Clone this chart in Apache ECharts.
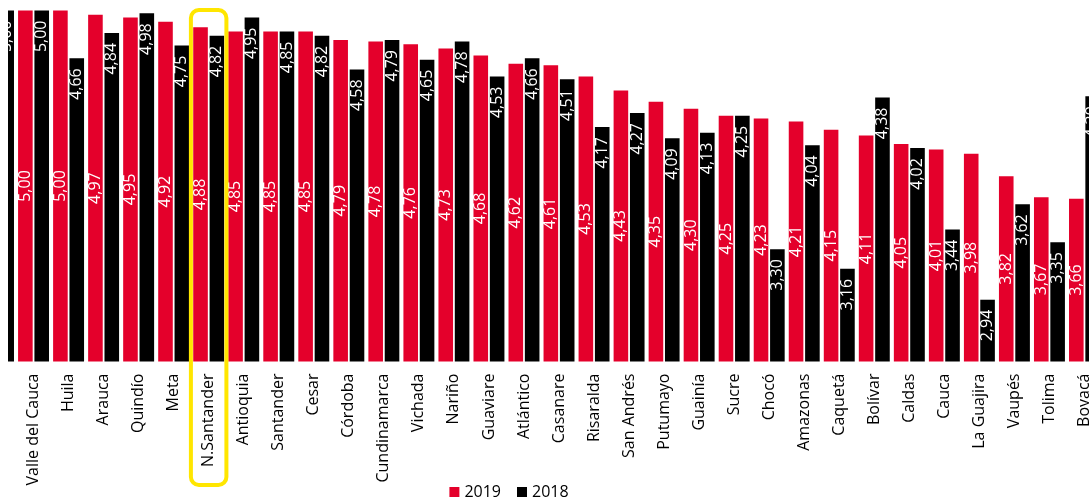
<!DOCTYPE html>
<html>
<head>
<meta charset="utf-8">
<script src="https://cdn.jsdelivr.net/npm/echarts@6/dist/echarts.min.js"></script>
<style>
html,body{margin:0;padding:0;background:#fff;overflow:hidden;width:1089px;height:497px;}
#wrap{position:absolute;left:0;top:0;width:1089px;height:497px;overflow:hidden;}
#c{position:absolute;left:-19.4px;top:0;width:1121.3px;height:497px;}
#mask{position:absolute;left:0;top:0;width:8px;height:370px;background:#fff;z-index:5;}
</style>
</head>
<body>
<div id="wrap"><div id="c"></div><div id="mask"></div></div>
<script>
// First category is the partly visible one cut off at the left edge of the reference.
const categories = ['', 'Valle del Cauca','Huila','Arauca','Quindío','Meta','N.Santander','Antioquia','Santander','Cesar','Córdoba','Cundinamarca','Vichada','Nariño','Guaviare','Atlántico','Casanare','Risaralda','San Andrés','Putumayo','Guainía','Sucre','Chocó','Amazonas','Caquetá','Bolívar','Caldas','Cauca','La Guajira','Vaupés','Tolima','Boyacá'];
const values2019 = [5.00, 5.00,5.00,4.97,4.95,4.92,4.88,4.85,4.85,4.85,4.79,4.78,4.76,4.73,4.68,4.62,4.61,4.53,4.43,4.35,4.30,4.25,4.23,4.21,4.15,4.11,4.05,4.01,3.98,3.82,3.67,3.66];
const values2018 = [5.00, 5.00,4.66,4.84,4.98,4.75,4.82,4.95,4.85,4.82,4.58,4.79,4.65,4.78,4.53,4.66,4.51,4.17,4.27,4.09,4.13,4.25,3.30,4.04,3.16,4.38,4.02,3.44,2.94,3.62,3.35,4.39];
const seriesNames = ['2019','2018'];
const highlighted = 'N.Santander';

const FONT = '"Open Sans", "Noto Sans", sans-serif';
const RED = '#E4002B';
const fmt = p => p.value.toFixed(2).replace('.', ',');

const chart = echarts.init(document.getElementById('c'), null, {renderer:'canvas'});
chart.setOption({
  animation:false,
  backgroundColor:'#fff',
  grid:{left:0, right:0, top:10.5, bottom:135.5, containLabel:false},
  legend:{
    data:seriesNames, left:463.4, top:479, icon:'rect', itemWidth:10, itemHeight:10, itemGap:16,
    textStyle:{fontFamily:FONT, fontSize:16, color:'#000'}
  },
  xAxis:{
    type:'category', data:categories,
    axisLine:{show:false}, axisTick:{show:false},
    axisLabel:{rotate:90, interval:0, margin:12, fontFamily:FONT, fontSize:16, color:'#000'}
  },
  yAxis:{type:'value', min:2.5, max:5.0, show:false, splitLine:{show:false}},
  series:[
    {name:seriesNames[0], type:'bar', data:values2019, barWidth:14.6, barGap:'12%',
     itemStyle:{color:RED},
     label:{show:true, position:'inside', rotate:90, formatter:fmt, color:'#fff', fontFamily:FONT, fontSize:16}},
    {name:seriesNames[1], type:'bar', data:values2018, barWidth:14.6,
     itemStyle:{color:'#000'},
     label:{show:true, position:'insideTop', distance:10, rotate:90, align:'right', verticalAlign:'middle',
            formatter:fmt, color:'#fff', fontFamily:FONT, fontSize:16}}
  ]
});
const cx = chart.convertToPixel({xAxisIndex:0}, highlighted);
chart.setOption({
  graphic:[{type:'rect', shape:{x:cx-17.8, y:10, width:35.5, height:475, r:8},
            style:{fill:'none', stroke:'#FFE600', lineWidth:4}, z:100}]
});
</script>
</body>
</html>
